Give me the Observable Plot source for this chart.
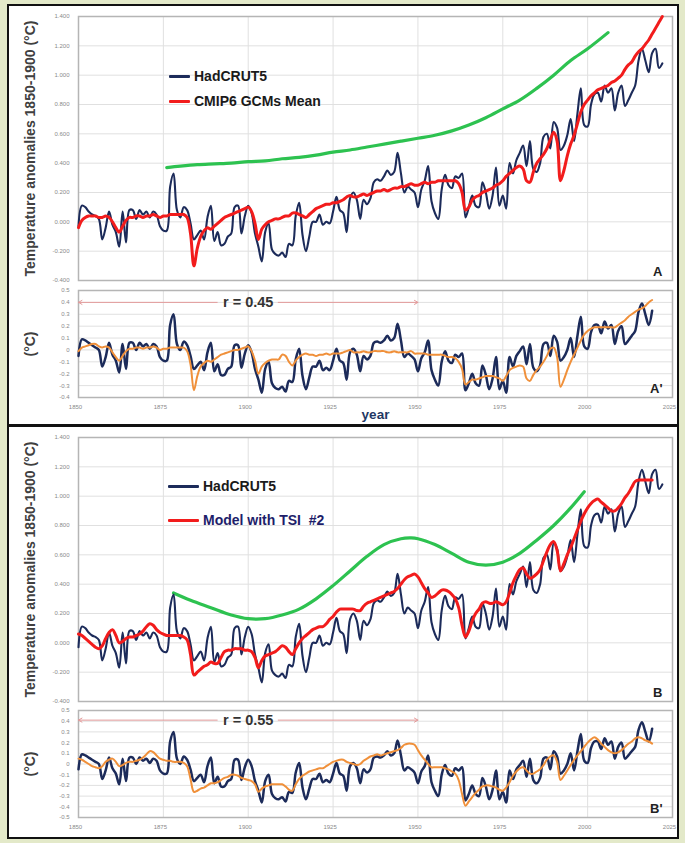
<!DOCTYPE html>
<html>
<head>
<meta charset="utf-8">
<script src="https://cdn.jsdelivr.net/npm/d3@7"></script>
<script src="https://cdn.jsdelivr.net/npm/@observablehq/plot@0.6"></script>
<style>
  html, body { margin: 0; padding: 0; background: #e3e9c9; }
  #page { position: relative; width: 685px; height: 843px; overflow: hidden; background: #e3e9c9;
          font-family: "Liberation Sans", Arial, sans-serif; }
  .panel { position: absolute; left: 7px; width: 672px; background: #fff; border: 2px solid #111; box-sizing: border-box; }
  .plotwrap { position: absolute; left: 0; }
  .legend { position: absolute; display: flex; align-items: center; font-weight: bold; font-size: 14px; white-space: pre; }
  .legend .swatch { display: inline-block; height: 3px; margin-right: 4px; border-radius: 1px; }
</style>
</head>
<body>
<div id="page"></div>
<script>
// ---------------- DATA ----------------
const firstYear = 1850;

// HadCRUT5 annual anomalies vs 1850-1900 (°C), 1850-2022
const hadcrut5 = [
  -0.03, 0.11, 0.10, 0.07, 0.05, 0.04, 0.02, -0.12, -0.04, 0.07,
  -0.02, -0.07, -0.17, 0.07, -0.14, 0.08, 0.08, 0.02, 0.08, 0.05,
  0.07, 0.03, 0.07, 0.05, -0.03, -0.06, -0.06, 0.24, 0.33, 0.08,
  0.03, 0.10, 0.08, -0.01, -0.12, -0.09, -0.06, -0.12, 0.03, 0.11,
  -0.13, -0.07, -0.16, -0.15, -0.10, -0.08, 0.10, 0.11, -0.08, 0.04,
  0.11, 0.06, -0.08, -0.17, -0.27, -0.07, -0.01, -0.19, -0.22, -0.23,
  -0.21, -0.24, -0.15, -0.16, 0.04, 0.13, -0.09, -0.20, -0.10, 0.00,
  0.00, 0.05, -0.02, 0.00, -0.01, 0.07, 0.17, 0.08, 0.06, -0.07,
  0.16, 0.20, 0.15, 0.02, 0.15, 0.12, 0.16, 0.27, 0.29, 0.28,
  0.31, 0.35, 0.32, 0.34, 0.47, 0.33, 0.20, 0.24, 0.22, 0.20,
  0.10, 0.22, 0.28, 0.38, 0.14, 0.06, 0.02, 0.22, 0.32, 0.25,
  0.23, 0.31, 0.30, 0.33, 0.03, 0.10, 0.18, 0.11, 0.10, 0.27,
  0.20, 0.09, 0.18, 0.37, 0.11, 0.18, 0.09, 0.40, 0.33, 0.42,
  0.47, 0.52, 0.38, 0.55, 0.36, 0.34, 0.40, 0.58, 0.60, 0.50,
  0.68, 0.64, 0.49, 0.52, 0.59, 0.70, 0.55, 0.74, 0.91, 0.66,
  0.65, 0.80, 0.87, 0.88, 0.82, 0.93, 0.88, 0.91, 0.76, 0.88,
  0.93, 0.79, 0.83, 0.88, 0.93, 1.10, 1.18, 1.10, 1.02, 1.15,
  1.18, 1.05, 1.08
];

// CMIP6 GCMs mean, 1850-2022
const cmip6Mean = [
  -0.04, 0.01, 0.03, 0.04, 0.04, 0.04, 0.03, 0.03, 0.04, 0.03,
  0.00, -0.04, -0.07, -0.03, 0.01, 0.03, 0.03, 0.04, 0.04, 0.03,
  0.04, 0.04, 0.05, 0.04, 0.03, 0.04, 0.04, 0.05, 0.05, 0.05,
  0.05, 0.05, 0.03, -0.08, -0.30, -0.18, -0.10, -0.06, -0.04, -0.05,
  -0.03, -0.01, 0.01, 0.03, 0.04, 0.05, 0.06, 0.07, 0.08, 0.09,
  0.10, 0.07, -0.01, -0.12, -0.05, -0.02, 0.00, 0.01, 0.02, 0.02,
  0.03, 0.04, 0.04, 0.06, 0.06, 0.05, 0.04, 0.03, 0.05, 0.07,
  0.09, 0.10, 0.11, 0.12, 0.12, 0.13, 0.13, 0.14, 0.15, 0.17,
  0.18, 0.17, 0.17, 0.18, 0.19, 0.18, 0.19, 0.20, 0.21, 0.21,
  0.22, 0.21, 0.22, 0.23, 0.23, 0.24, 0.24, 0.25, 0.26, 0.25,
  0.25, 0.26, 0.27, 0.26, 0.27, 0.27, 0.28, 0.28, 0.28, 0.28,
  0.28, 0.28, 0.26, 0.20, 0.08, 0.10, 0.15, 0.17, 0.18, 0.20,
  0.21, 0.22, 0.23, 0.25, 0.26, 0.28, 0.31, 0.33, 0.35, 0.37,
  0.38, 0.36, 0.28, 0.27, 0.34, 0.40, 0.43, 0.46, 0.50, 0.56,
  0.61, 0.55, 0.28, 0.35, 0.45, 0.53, 0.59, 0.67, 0.75, 0.80,
  0.83, 0.86, 0.88, 0.90, 0.91, 0.92, 0.93, 0.95, 0.96, 0.98,
  1.00, 1.04, 1.07, 1.09, 1.13, 1.16, 1.18, 1.21, 1.24, 1.28,
  1.32, 1.36, 1.40
];

// Model with TSI #2, 1850-2019
const modelTSI2 = [
  0.06, 0.05, 0.03, 0.01, -0.01, -0.03, -0.04, -0.02, 0.03, 0.07,
  0.09, 0.05, 0.00, 0.01, 0.03, 0.04, 0.04, 0.05, 0.06, 0.08,
  0.11, 0.13, 0.12, 0.09, 0.07, 0.06, 0.05, 0.05, 0.05, 0.05,
  0.05, 0.04, 0.02, -0.08, -0.22, -0.20, -0.18, -0.16, -0.15, -0.13,
  -0.14, -0.14, -0.10, -0.06, -0.05, -0.05, -0.04, -0.04, -0.04, -0.05,
  -0.05, -0.06, -0.10, -0.17, -0.12, -0.09, -0.08, -0.07, -0.06, -0.04,
  -0.02, -0.03, -0.06, -0.08, -0.04, 0.00, 0.03, 0.05, 0.07, 0.09,
  0.10, 0.11, 0.11, 0.13, 0.16, 0.18, 0.21, 0.23, 0.23, 0.23,
  0.23, 0.23, 0.22, 0.22, 0.25, 0.27, 0.28, 0.29, 0.30, 0.31,
  0.32, 0.33, 0.34, 0.35, 0.37, 0.40, 0.43, 0.45, 0.46, 0.47,
  0.45, 0.41, 0.37, 0.34, 0.31, 0.32, 0.34, 0.36, 0.36, 0.35,
  0.33, 0.30, 0.24, 0.12, 0.04, 0.08, 0.15, 0.20, 0.23, 0.27,
  0.28, 0.27, 0.27, 0.28, 0.27, 0.26, 0.28, 0.34, 0.41, 0.46,
  0.50, 0.51, 0.47, 0.44, 0.45, 0.47, 0.50, 0.56, 0.62, 0.67,
  0.69, 0.63, 0.49, 0.54, 0.60, 0.65, 0.71, 0.77, 0.83, 0.88,
  0.92, 0.95, 0.97, 0.98, 0.96, 0.94, 0.92, 0.90, 0.90, 0.92,
  0.95, 0.99, 1.02, 1.06, 1.10, 1.11, 1.11, 1.11, 1.11, 1.11
];

// Detrended series (panels A' and B'), 1850-2019
const hadcrut5Detrended = [
  -0.05, 0.09, 0.08, 0.06, 0.04, 0.02, 0.00, -0.14, -0.06, 0.06,
  -0.04, -0.09, -0.19, 0.05, -0.16, 0.06, 0.06, 0.00, 0.06, 0.03,
  0.05, 0.01, 0.05, 0.03, -0.06, -0.09, -0.09, 0.21, 0.30, 0.05,
  0.00, 0.07, 0.04, -0.05, -0.16, -0.13, -0.10, -0.17, -0.02, 0.06,
  -0.18, -0.12, -0.21, -0.21, -0.16, -0.14, 0.04, 0.04, -0.15, -0.03,
  0.04, -0.02, -0.16, -0.25, -0.36, -0.16, -0.10, -0.28, -0.32, -0.33,
  -0.31, -0.35, -0.26, -0.27, -0.08, 0.01, -0.22, -0.33, -0.23, -0.14,
  -0.14, -0.09, -0.17, -0.15, -0.17, -0.09, 0.01, -0.09, -0.11, -0.25,
  -0.02, 0.01, -0.04, -0.18, -0.05, -0.08, -0.05, 0.06, 0.07, 0.06,
  0.08, 0.12, 0.08, 0.10, 0.22, 0.08, -0.06, -0.03, -0.05, -0.08,
  -0.18, -0.07, -0.02, 0.08, -0.17, -0.25, -0.30, -0.10, -0.01, -0.09,
  -0.11, -0.04, -0.06, -0.03, -0.34, -0.28, -0.20, -0.28, -0.30, -0.13,
  -0.21, -0.33, -0.24, -0.06, -0.33, -0.26, -0.36, -0.06, -0.14, -0.05,
  -0.01, 0.03, -0.12, 0.05, -0.15, -0.18, -0.13, 0.05, 0.06, -0.05,
  0.12, 0.07, -0.09, -0.06, 0.00, 0.10, -0.06, 0.12, 0.28, 0.03,
  0.01, 0.15, 0.21, 0.21, 0.14, 0.24, 0.18, 0.21, 0.05, 0.16,
  0.20, 0.05, 0.08, 0.12, 0.16, 0.32, 0.39, 0.30, 0.21, 0.33
];

const cmip6Detrended = [
  -0.01, 0.02, 0.03, 0.04, 0.05, 0.05, 0.03, 0.02, 0.03, 0.02,
  -0.02, -0.06, -0.09, -0.05, -0.01, 0.01, 0.01, 0.02, 0.02, 0.01,
  0.02, 0.02, 0.03, 0.02, 0.00, 0.01, 0.01, 0.02, 0.02, 0.02,
  0.02, 0.02, -0.01, -0.12, -0.34, -0.22, -0.14, -0.11, -0.09, -0.10,
  -0.08, -0.06, -0.04, -0.03, -0.02, -0.01, 0.00, 0.00, 0.01, 0.02,
  0.03, -0.01, -0.09, -0.20, -0.14, -0.11, -0.09, -0.08, -0.08, -0.08,
  -0.04, -0.05, -0.10, -0.13, -0.09, -0.06, -0.04, -0.03, -0.04, -0.04,
  -0.05, -0.04, -0.04, -0.03, -0.04, -0.03, -0.03, -0.03, -0.02, -0.01,
  0.00, -0.02, -0.02, -0.02, -0.01, -0.02, -0.02, -0.01, -0.01, -0.01,
  -0.01, -0.02, -0.02, -0.01, -0.02, -0.02, -0.02, -0.02, -0.01, -0.03,
  -0.03, -0.03, -0.03, -0.04, -0.04, -0.04, -0.04, -0.04, -0.05, -0.06,
  -0.06, -0.07, -0.10, -0.16, -0.29, -0.27, -0.25, -0.25, -0.24, -0.23,
  -0.22, -0.22, -0.22, -0.23, -0.24, -0.26, -0.22, -0.17, -0.15, -0.14,
  -0.13, -0.14, -0.24, -0.26, -0.21, -0.17, -0.14, -0.10, -0.05, 0.01,
  0.02, -0.06, -0.31, -0.25, -0.17, -0.10, -0.04, 0.02, 0.08, 0.13,
  0.16, 0.18, 0.19, 0.19, 0.19, 0.19, 0.19, 0.19, 0.19, 0.21,
  0.23, 0.25, 0.28, 0.30, 0.32, 0.34, 0.35, 0.37, 0.40, 0.42
];

const modelTSI2Detrended = [
  0.05, 0.04, 0.02, 0.00, -0.02, -0.03, -0.04, -0.02, 0.02, 0.04,
  0.05, 0.02, -0.02, -0.01, 0.01, 0.02, 0.02, 0.03, 0.04, 0.06,
  0.09, 0.12, 0.11, 0.08, 0.05, 0.04, 0.03, 0.03, 0.02, 0.02,
  0.02, 0.01, -0.02, -0.14, -0.26, -0.25, -0.23, -0.22, -0.20, -0.18,
  -0.18, -0.17, -0.15, -0.13, -0.12, -0.10, -0.10, -0.11, -0.13, -0.14,
  -0.15, -0.16, -0.19, -0.26, -0.23, -0.21, -0.20, -0.19, -0.19, -0.19,
  -0.19, -0.21, -0.24, -0.25, -0.19, -0.14, -0.11, -0.09, -0.07, -0.06,
  -0.05, -0.04, -0.04, -0.02, 0.00, 0.02, 0.03, 0.04, 0.04, 0.02,
  0.01, 0.00, -0.01, 0.00, 0.03, 0.05, 0.07, 0.08, 0.09, 0.08,
  0.09, 0.10, 0.11, 0.12, 0.13, 0.15, 0.18, 0.19, 0.19, 0.18,
  0.13, 0.08, 0.04, 0.00, -0.03, -0.03, -0.03, -0.03, -0.04, -0.05,
  -0.07, -0.09, -0.15, -0.28, -0.39, -0.35, -0.31, -0.27, -0.24, -0.21,
  -0.20, -0.20, -0.21, -0.22, -0.24, -0.25, -0.22, -0.17, -0.11, -0.07,
  -0.04, -0.03, -0.06, -0.09, -0.09, -0.07, -0.05, -0.01, 0.04, 0.07,
  0.08, 0.02, -0.15, -0.11, -0.06, -0.01, 0.04, 0.08, 0.12, 0.16,
  0.20, 0.23, 0.25, 0.23, 0.19, 0.16, 0.13, 0.11, 0.10, 0.11,
  0.13, 0.16, 0.19, 0.21, 0.24, 0.25, 0.24, 0.22, 0.21, 0.19
];

// Green curves
const greenAYears  = [1876, 1880, 1885, 1890, 1895, 1900, 1905, 1910, 1915, 1920, 1925, 1930, 1935, 1940, 1945, 1950, 1955, 1960, 1965, 1970, 1975, 1980, 1985, 1990, 1995, 2000, 2006];
const greenAValues = [0.37, 0.38, 0.39, 0.395, 0.40, 0.41, 0.415, 0.43, 0.44, 0.455, 0.475, 0.49, 0.51, 0.53, 0.55, 0.57, 0.59, 0.62, 0.66, 0.71, 0.77, 0.83, 0.91, 1.00, 1.10, 1.18, 1.29];
const greenBYears  = [1878, 1883, 1889, 1895, 1900, 1905, 1910, 1915, 1920, 1925, 1930, 1935, 1940, 1945, 1948, 1950, 1955, 1960, 1965, 1970, 1975, 1980, 1985, 1990, 1995, 1999];
const greenBValues = [0.34, 0.29, 0.24, 0.19, 0.165, 0.165, 0.19, 0.23, 0.30, 0.39, 0.49, 0.59, 0.67, 0.71, 0.715, 0.71, 0.67, 0.61, 0.55, 0.53, 0.55, 0.61, 0.70, 0.80, 0.92, 1.03];

// Correlation annotations (period and r)
const corrA = { label: "r = 0.45", from: 1850, to: 1950, y: 0.40 };
const corrB = { label: "r = 0.55", from: 1850, to: 1950, y: 0.41 };

// Ticks and labels
const xTicks = [1850, 1875, 1900, 1925, 1950, 1975, 2000, 2025];
const yTicksMain = [-0.4, -0.2, 0, 0.2, 0.4, 0.6, 0.8, 1.0, 1.2, 1.4];
const yTicksA2 = [-0.4, -0.3, -0.2, -0.1, 0, 0.1, 0.2, 0.3, 0.4, 0.5];
const yTicksB2 = [-0.5, -0.4, -0.3, -0.2, -0.1, 0, 0.1, 0.2, 0.3, 0.4, 0.5];
const yLabelMain = "Temperature anomalies 1850-1900 (°C)";
const yLabelResid = "(°C)";
const xLabel = "year";

// ---------------- RENDER ----------------
const FONT = '"Liberation Sans", Arial, sans-serif';
const C_BLUE = "#1c2b5a", C_RED = "#f21c1c", C_ORANGE = "#f0903a", C_GREEN = "#2dc250";
const GRID = "#e0e0e0", FRAME = "#b5b5b5", TICKTXT = "#8a8a8a";

const toRows = vals => vals.map((v, i) => ({ year: firstYear + i, value: v }));
const pairRows = (ys, vs) => ys.map((y, i) => ({ year: y, value: vs[i] }));

const page = document.getElementById("page");
function addPanel(top, height) {
  const d = document.createElement("div");
  d.className = "panel"; d.style.top = top + "px"; d.style.height = height + "px";
  page.appendChild(d);
}
addPanel(4, 422);
addPanel(425, 414);

function place(svg, top) {
  const w = document.createElement("div");
  w.className = "plotwrap"; w.style.top = top + "px";
  w.appendChild(svg); page.appendChild(w);
}

const baseStyle = { background: "transparent", fontFamily: FONT, fontSize: "6px", color: TICKTXT, overflow: "visible" };

function mainPlot(modelVals, green, letter) {
  return Plot.plot({
    width: 685, height: 290,
    marginLeft: 78, marginRight: 13, marginTop: 16, marginBottom: 10,
    style: baseStyle,
    x: { domain: [1850, 2025], axis: null },
    y: { domain: [-0.4, 1.4], axis: null },
    marks: [
      Plot.gridY(yTicksMain, { stroke: GRID, strokeOpacity: 1 }),
      Plot.gridX(xTicks, { stroke: GRID, strokeOpacity: 1 }),
      Plot.axisY(yTicksMain, { label: null, tickSize: 0, tickPadding: 9, tickFormat: d => d.toFixed(3), fontSize: 6, fill: TICKTXT }),
      Plot.frame({ stroke: FRAME, strokeWidth: 1.5 }),
      Plot.line(green, { x: "year", y: "value", stroke: C_GREEN, strokeWidth: 3.2, curve: "catmull-rom" }),
      Plot.line(toRows(hadcrut5), { x: "year", y: "value", stroke: C_BLUE, strokeWidth: 2.1, curve: "catmull-rom" }),
      Plot.line(toRows(modelVals), { x: "year", y: "value", stroke: C_RED, strokeWidth: 3, curve: "catmull-rom" }),
      Plot.text([yLabelMain], { frameAnchor: "left", textAnchor: "middle", rotate: -90, dx: -48, fontWeight: "bold", fontSize: 14, fill: "#404040" }),
      Plot.text([letter], { frameAnchor: "bottom-right", dx: -10, dy: -5, fontWeight: "bold", fontSize: 13, fill: "#222" })
    ]
  });
}

function residPlot(modelVals, yDomain, yTicks, corr, letter, height, mBottom, withXLabel) {
  const mid = (corr.from + corr.to) / 2;
  return Plot.plot({
    width: 685, height,
    marginLeft: 78, marginRight: 13, marginTop: 5, marginBottom: mBottom,
    style: baseStyle,
    x: { domain: [1850, 2025], axis: null },
    y: { domain: yDomain, axis: null },
    marks: [
      Plot.gridY(yTicks, { stroke: GRID, strokeOpacity: 1 }),
      Plot.gridX(xTicks, { stroke: GRID, strokeOpacity: 1 }),
      Plot.axisY(yTicks, { label: null, tickSize: 0, tickPadding: 9, tickFormat: d => (Math.abs(d) < 1e-9 ? "0" : d.toFixed(1)), fontSize: 6, fill: TICKTXT }),
      Plot.axisX(xTicks, { label: null, tickSize: 0, tickPadding: 7, dx: -3, tickFormat: d => String(d), fontSize: 6, fill: TICKTXT }),
      Plot.frame({ stroke: FRAME, strokeWidth: 1.5 }),
      Plot.arrow([corr], { x1: () => mid, x2: "from", y1: "y", y2: "y", stroke: "#e39a9a", strokeWidth: 1, headLength: 6, insetStart: 31 }),
      Plot.arrow([corr], { x1: () => mid, x2: "to", y1: "y", y2: "y", stroke: "#e39a9a", strokeWidth: 1, headLength: 6, insetStart: 30 }),
      Plot.text([corr], { x: () => mid, y: "y", text: "label", fontWeight: "bold", fontSize: 14.5, fill: "#333" }),
      Plot.line(toRows(hadcrut5Detrended), { x: "year", y: "value", stroke: C_BLUE, strokeWidth: 2.5, curve: "catmull-rom" }),
      Plot.line(toRows(modelVals), { x: "year", y: "value", stroke: C_ORANGE, strokeWidth: 2, curve: "catmull-rom" }),
      Plot.text([yLabelResid], { frameAnchor: "left", textAnchor: "middle", rotate: -90, dx: -48, fontWeight: "bold", fontSize: 14, fill: "#404040" }),
      Plot.text([letter], { frameAnchor: "bottom-right", dx: -10, dy: -5, fontWeight: "bold", fontSize: 13, fill: "#222" }),
      ...(withXLabel ? [Plot.text([xLabel], { frameAnchor: "bottom", lineAnchor: "middle", dy: 17, fontWeight: "bold", fontSize: 13.5, fill: "#1f3864" })] : [])
    ]
  });
}

place(mainPlot(cmip6Mean, pairRows(greenAYears, greenAValues), "A"), 0);
place(residPlot(cmip6Detrended, [-0.4, 0.5], yTicksA2, corrA, "A'", 140, 28, true), 285);
place(mainPlot(modelTSI2, pairRows(greenBYears, greenBValues), "B"), 420.5);
place(residPlot(modelTSI2Detrended, [-0.5, 0.5], yTicksB2, corrB, "B'", 133, 21, false), 705);

// Legends (inside the main plots)
function legendItem(label, color, textColor, left, top, lineW) {
  const d = document.createElement("div");
  d.className = "legend"; d.style.left = left + "px"; d.style.top = top + "px"; d.style.color = textColor;
  const s = document.createElement("span");
  s.className = "swatch"; s.style.width = lineW + "px"; s.style.background = color;
  d.appendChild(s); d.appendChild(document.createTextNode(label));
  page.appendChild(d);
}
legendItem("HadCRUT5", C_BLUE, "#1a1a1a", 169, 68, 21);
legendItem("CMIP6 GCMs Mean", C_RED, "#1a1a1a", 169, 93, 21);
legendItem("HadCRUT5", C_BLUE, "#1a1a1a", 168, 478, 31);
legendItem("Model with TSI  #2", C_RED, "#1e1e6a", 168, 512, 31);
</script>
</body>
</html>
